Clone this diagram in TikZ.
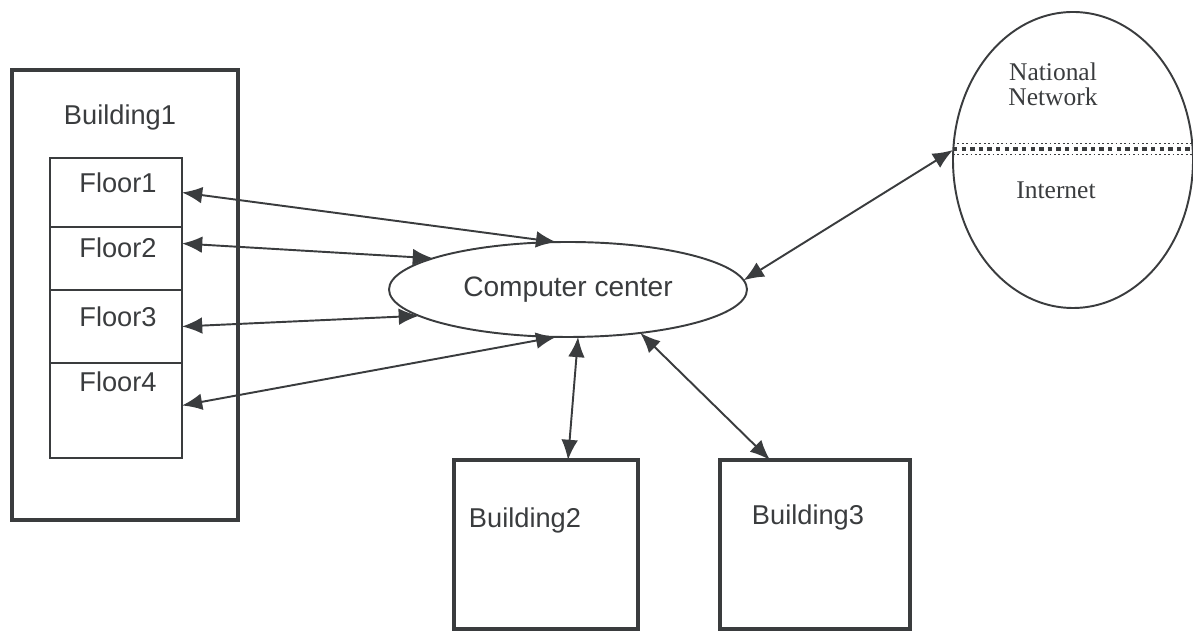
\documentclass[tikz,border=0pt]{standalone}
\usepackage{fontspec}
\setmainfont{Liberation Sans}
\newfontfamily\netfont{Liberation Serif}
\usetikzlibrary{arrows.meta,calc,shapes.geometric}
\definecolor{ink}{RGB}{58,60,62}

\begin{document}
\begin{tikzpicture}[>={Latex[length=11.5pt,width=9.5pt]}, font=\fontsize{15.5}{18}\selectfont,
  every node/.style={inner sep=0pt, outer sep=0pt, text=ink},
  bigbox/.style={draw=ink, line width=2.4pt, rectangle},
  cell/.style={draw=ink, line width=0.85pt, rectangle, minimum width=2.64cm},
  cloud/.style={draw=ink, line width=1.1pt, ellipse},
  link/.style={<->, draw=ink, line width=1.1pt},
  band/.style={draw=ink, line width=1pt, dash pattern=on 1pt off 1.5pt}]
  \useasboundingbox (0,0) rectangle (23.86,12.62);

  % building 1 and its floors
  \node[bigbox, minimum width=4.52cm, minimum height=9.0cm] (b1) at (2.5,6.72) {};
  \node (b1t) at (2.4,10.28) {Building1};
  \node[cell, minimum height=1.38cm] (f1) at (2.32,8.77) {};
  \node[cell, minimum height=1.26cm] (f2) at (2.32,7.45) {};
  \node[cell, minimum height=1.46cm] (f3) at (2.32,6.09) {};
  \node[cell, minimum height=1.9cm] (f4) at (2.32,4.41) {};
  \node (l1) at (2.36,8.96) {Floor1};
  \node (l2) at (2.36,7.66) {Floor2};
  \node (l3) at (2.36,6.28) {Floor3};
  \node (l4) at (2.36,4.98) {Floor4};

  \node[cloud, minimum width=7.16cm, minimum height=1.9cm,
        font=\fontsize{16}{19}\selectfont] (cc) at (11.36,6.83) {Computer center};

  \node[bigbox, minimum width=3.68cm, minimum height=3.38cm] (b2) at (10.92,1.73) {};
  \node[bigbox, minimum width=3.8cm, minimum height=3.38cm] (b3) at (16.3,1.73) {};
  \node (b2t) at (10.5,2.22) {Building2};
  \node (b3t) at (16.16,2.28) {Building3};

  % national network
  \node[cloud, minimum width=4.8cm, minimum height=5.92cm] (nn) at (21.46,9.42) {};
  \node[align=center, font=\netfont\fontsize{14.5}{14.2}\selectfont] (nat) at (21.06,10.93) {National\\Network};
  \node[font=\netfont\fontsize{14.5}{14.2}\selectfont] (inet) at (21.12,8.82) {Internet};
  \draw[band] ($(nn.west)+(0,0.33)$) -- ($(nn.east)+(0,0.33)$);
  \draw[draw=ink, line width=2.5pt, dash pattern=on 2.5pt off 2.4pt]
    ($(nn.west)+(0,0.225)$) -- ($(nn.east)+(0,0.225)$);
  \draw[band] ($(nn.west)+(0,0.11)$) -- ($(nn.east)+(0,0.11)$);

  \draw[link] (f1.east) -- (cc.104);
  \draw[link] ([yshift=0.3cm]f2.east) -- (cc.167);
  \draw[link] (f3.east) -- (cc.190);
  \draw[link] ([yshift=0.1cm]f4.east) -- (cc.256);
  \draw[link] (cc.282) -- ([xshift=0.44cm]b2.north);
  \draw[link] (cc.329) -- ([xshift=-0.9cm]b3.north);
  \draw[link] (cc.3) -- ($(nn.west)+(0,0.2)$);
\end{tikzpicture}
\end{document}
